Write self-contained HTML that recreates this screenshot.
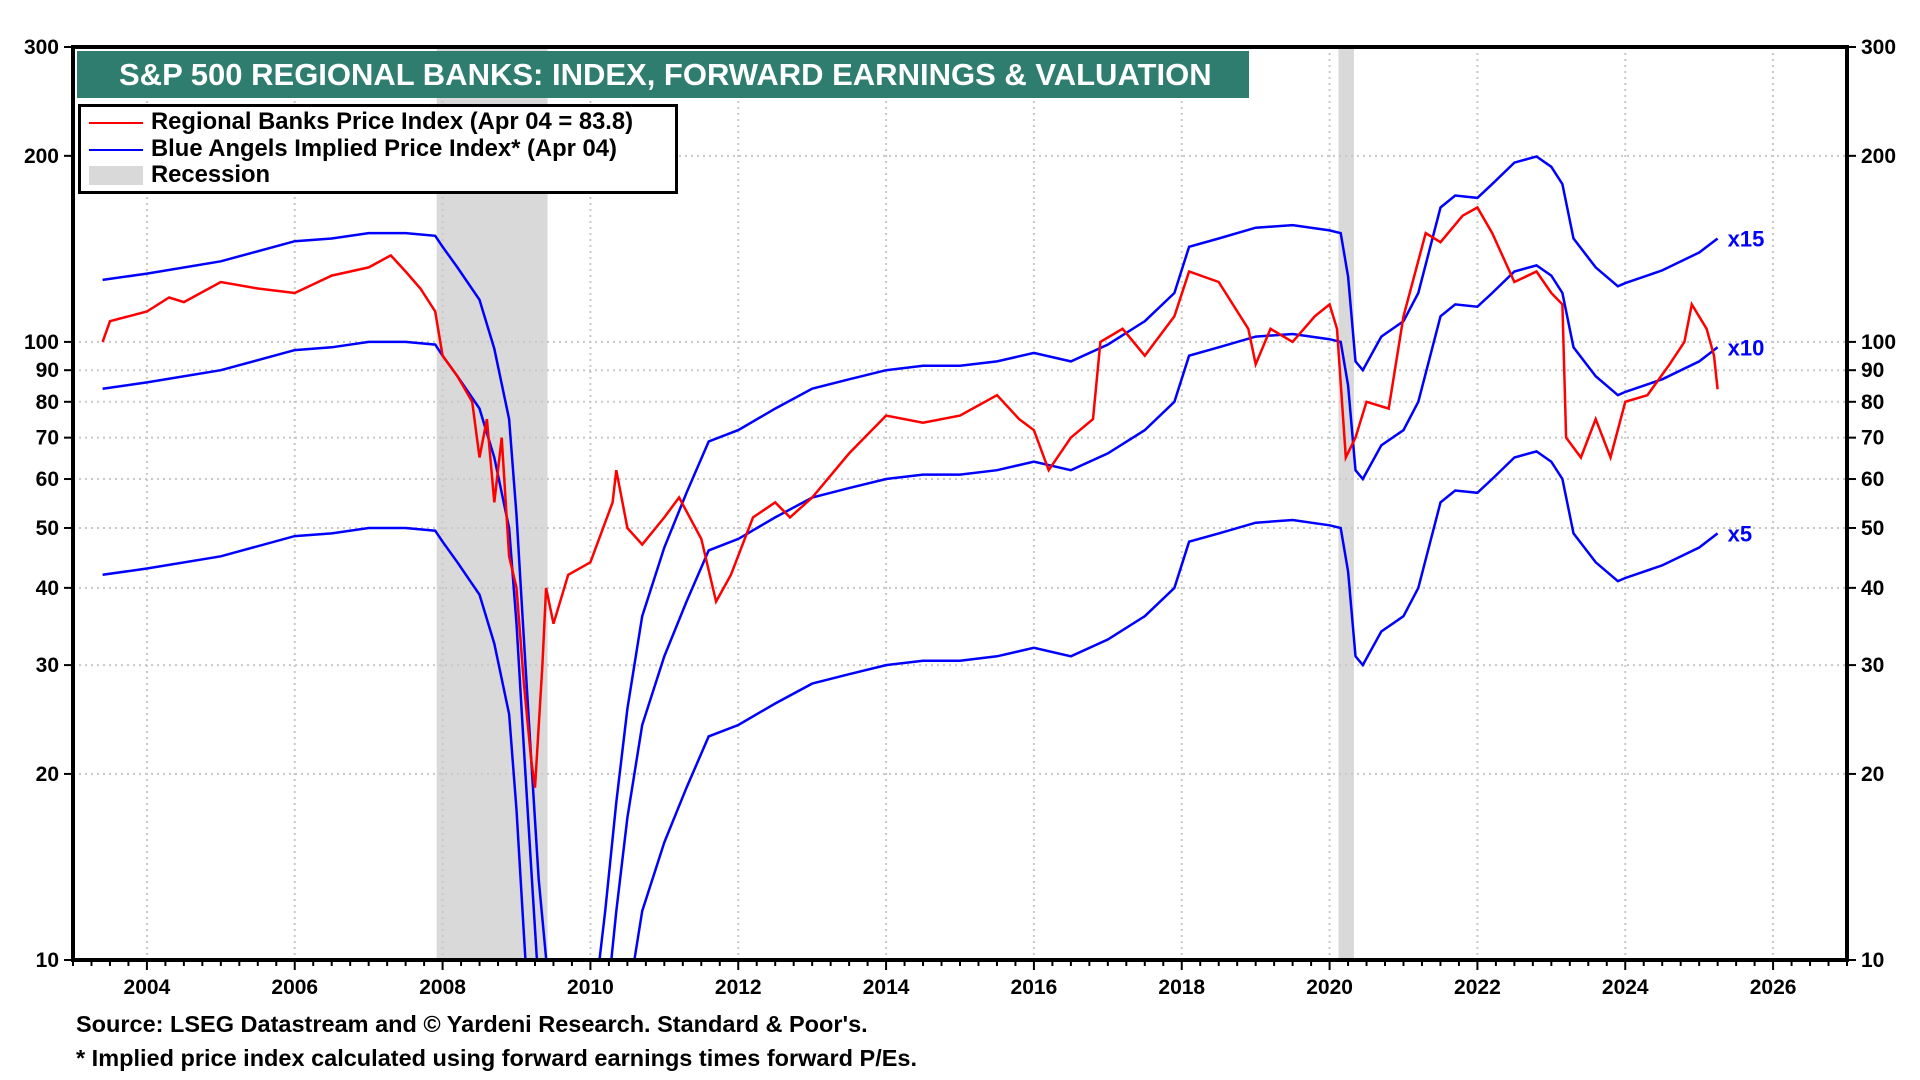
<!DOCTYPE html>
<html><head><meta charset="utf-8"><style>
html,body{margin:0;padding:0;background:#fff;width:1920px;height:1080px;overflow:hidden;font-family:"Liberation Sans",sans-serif;position:relative;}
svg text{font-family:"Liberation Sans",sans-serif;font-weight:bold;}
svg{position:absolute;left:0;top:0;}
</style></head><body>
<svg id="chart" width="1920" height="1080" xmlns="http://www.w3.org/2000/svg"></svg>
<script>
// ---- data ----
const yTicks = [10,20,30,40,50,60,70,80,90,100,200,300];
const xTickYears = [2004,2006,2008,2010,2012,2014,2016,2018,2020,2022,2024,2026];
const recessionStarts = [2007.92, 2020.12];
const recessionEnds = [2009.42, 2020.33];
const multipliers = [15,10,5];
const multLabels = ["x15","x10","x5"];
const blueYears = [2003.4,2004,2005,2006,2006.5,2007,2007.5,2007.9,2008.0,2008.2,2008.5,2008.7,2008.9,2009.0,2009.1,2009.2,2009.3,2009.5,2010.0,2010.2,2010.35,2010.5,2010.7,2011.0,2011.3,2011.6,2012.0,2012.5,2013.0,2013.5,2014.0,2014.5,2015.0,2015.5,2016.0,2016.5,2017.0,2017.5,2017.9,2018.1,2018.5,2019.0,2019.5,2020.0,2020.15,2020.25,2020.35,2020.45,2020.7,2021.0,2021.2,2021.5,2021.7,2022.0,2022.2,2022.5,2022.8,2023.0,2023.15,2023.3,2023.6,2023.9,2024.0,2024.5,2025.0,2025.25];
const blueTen = [84,86,90,97,98,100,100,99,95,88,78,65,50,35,22,14,9,5,5,8,12,17,24,31,38,46,48,52,56,58,60,61,61,62,64,62,66,72,80,95,98,102,103,101,100,85,62,60,68,72,80,110,115,114,120,130,133,128,120,98,88,82,83,87,93,98];
const redYears = [2003.4,2003.5,2004.0,2004.3,2004.5,2005.0,2005.5,2006.0,2006.5,2007.0,2007.3,2007.5,2007.7,2007.9,2008.0,2008.2,2008.4,2008.5,2008.6,2008.7,2008.8,2008.9,2009.0,2009.1,2009.2,2009.25,2009.35,2009.4,2009.5,2009.7,2010.0,2010.3,2010.35,2010.5,2010.7,2011.0,2011.2,2011.5,2011.7,2011.9,2012.2,2012.5,2012.7,2013.0,2013.5,2014.0,2014.5,2015.0,2015.5,2015.8,2016.0,2016.2,2016.5,2016.8,2016.9,2017.2,2017.5,2017.9,2018.1,2018.5,2018.9,2019.0,2019.2,2019.5,2019.8,2020.0,2020.1,2020.22,2020.35,2020.5,2020.8,2021.0,2021.3,2021.5,2021.8,2022.0,2022.2,2022.5,2022.8,2023.0,2023.15,2023.2,2023.4,2023.6,2023.8,2024.0,2024.3,2024.6,2024.8,2024.9,2025.1,2025.2,2025.25];
const redVals = [100,108,112,118,116,125,122,120,128,132,138,130,122,112,95,88,80,65,75,55,70,45,40,28,21,19,30,40,35,42,44,55,62,50,47,52,56,48,38,42,52,55,52,56,66,76,74,76,82,75,72,62,70,75,100,105,95,110,130,125,105,92,105,100,110,115,105,65,70,80,78,110,150,145,160,165,150,125,130,120,115,70,65,75,65,80,82,92,100,115,105,95,83.8];

// ---- geometry ----
const L=73,R=1847,T=47,B=960;
const X0=2003,X1=2027;
const sx=y=>L+(y-X0)/(X1-X0)*(R-L);
const lmin=1,lmax=Math.log10(300);
const sy=v=>B-(Math.log10(v)-lmin)/(lmax-lmin)*(B-T);
const svg=document.getElementById('chart');
const NS='http://www.w3.org/2000/svg';
function mk(tag,attrs,parent){const e=document.createElementNS(NS,tag);for(const k in attrs)e.setAttribute(k,attrs[k]);(parent||svg).appendChild(e);return e;}

const defs=mk('defs',{});
const cp=mk('clipPath',{id:'clip'},defs);
mk('rect',{x:L,y:T,width:R-L,height:B-T},cp);

for(let i=0;i<recessionStarts.length;i++){
  const r=mk('rect',{x:sx(recessionStarts[i]),y:T,width:sx(recessionEnds[i])-sx(recessionStarts[i]),height:B-T,fill:'#d9d9d9'});
  
  
}
yTicks.forEach(v=>{
  if(v===10||v===300)return;
  const g=mk('line',{x1:L,x2:R,y1:sy(v),y2:sy(v),stroke:'#c8c8c8','stroke-width':2,'stroke-dasharray':'2,4'});
  
  
});
xTickYears.forEach(y=>{
  const g=mk('line',{x1:sx(y),x2:sx(y),y1:T,y2:B,stroke:'#c8c8c8','stroke-width':2,'stroke-dasharray':'2,4'});
  
  
});

function pathFrom(xs,vs,m){let d='';for(let i=0;i<xs.length;i++){d+=(i?'L':'M')+sx(xs[i]).toFixed(1)+','+sy(vs[i]*m).toFixed(1);}return d;}
multipliers.forEach((m,i)=>{
  const p=mk('path',{d:pathFrom(blueYears,blueTen,m/10),fill:'none',stroke:'#0000ff','stroke-width':2.5,'clip-path':'url(#clip)'});
  
  
  const last=blueTen[blueTen.length-1]*m/10;
  const t=mk('text',{x:sx(blueYears[blueYears.length-1])+10,y:sy(last)+8,fill:'#0000ff','font-size':22});
  t.textContent=multLabels[i];
  
  
});
const rp=mk('path',{d:pathFrom(redYears,redVals,1),fill:'none',stroke:'#ff0000','stroke-width':2.5,'clip-path':'url(#clip)'});



const fr=mk('rect',{x:L,y:T,width:R-L,height:B-T,fill:'none',stroke:'#000','stroke-width':4});



for(let d=10;d<=300;d+=(d<100?10:100)){
  [L,R].forEach((x,j)=>{const dir=j?1:-1;mk('line',{x1:x,x2:x+dir*(yTicks.includes(d)?9:6),y1:sy(d),y2:sy(d),stroke:'#000','stroke-width':2});});
}
yTicks.forEach(v=>{
  const a=mk('text',{x:L-14,y:sy(v)+7,'text-anchor':'end','font-size':21,fill:'#000'});a.textContent=v;
  
  
  const b=mk('text',{x:R+14,y:sy(v)+7,'text-anchor':'start','font-size':21,fill:'#000'});b.textContent=v;
  
  
});
for(let q=X0*4;q<=X1*4;q++){
  const y=q/4;const major=xTickYears.includes(y);
  mk('line',{x1:sx(y),x2:sx(y),y1:B,y2:B+(major?10:6),stroke:'#000','stroke-width':2});
}
xTickYears.forEach(y=>{
  const t=mk('text',{x:sx(y),y:B+34,'text-anchor':'middle','font-size':21,fill:'#000'});t.textContent=y;
  
  
});
</script>
<div style="position:absolute;left:77px;top:51px;width:1172px;height:47px;background:#2e7d6e;color:#fff;font-weight:bold;font-size:31px;line-height:47px;box-sizing:border-box;padding-left:42px;white-space:nowrap;overflow:hidden;">S&amp;P 500 REGIONAL BANKS: INDEX, FORWARD EARNINGS &amp; VALUATION</div>
<div style="position:absolute;left:78px;top:104px;width:600px;height:90px;background:#fff;border:3px solid #000;box-sizing:border-box;font-weight:bold;font-size:23.8px;line-height:26.5px;padding-top:2px;white-space:nowrap;overflow:hidden;">
  <div style="position:relative;padding-left:70px;"><span style="position:absolute;left:8px;top:13px;width:54px;height:2px;background:#f00"></span>Regional Banks Price Index (Apr 04 = 83.8)</div>
  <div style="position:relative;padding-left:70px;"><span style="position:absolute;left:8px;top:13px;width:54px;height:2px;background:#00f"></span>Blue Angels Implied Price Index* (Apr 04)</div>
  <div style="position:relative;padding-left:70px;"><span style="position:absolute;left:8px;top:4px;width:54px;height:19px;background:#d9d9d9"></span>Recession</div>
</div>
<div style="position:absolute;left:76px;top:1012px;height:24px;font-weight:bold;font-size:23.5px;line-height:24px;white-space:nowrap;">Source: LSEG Datastream and © Yardeni Research. Standard &amp; Poor's.</div>
<div style="position:absolute;left:76px;top:1046px;height:24px;font-weight:bold;font-size:23.5px;line-height:24px;white-space:nowrap;">* Implied price index calculated using forward earnings times forward P/Es.</div>
</body></html>
